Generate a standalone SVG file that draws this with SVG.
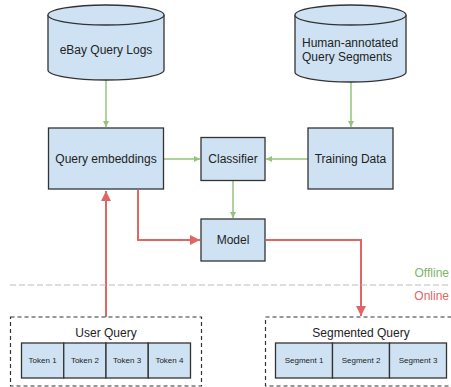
<svg xmlns="http://www.w3.org/2000/svg" width="451" height="387" viewBox="0 0 451 387">
<style>
.n{fill:#cfe2f3;stroke:#333;stroke-width:1.3}
.t{font-family:"Liberation Sans",Arial,sans-serif;font-size:12px;fill:#222;text-anchor:middle}
.ts{font-family:"Liberation Sans",Arial,sans-serif;font-size:12px;fill:#222;text-anchor:start}
.s{font-family:"Liberation Sans",Arial,sans-serif;font-size:8px;fill:#222;text-anchor:middle}
.g{fill:none;stroke:#93c47d;stroke-width:1.5}
.r{fill:none;stroke:#e06666;stroke-width:2}
.d{fill:none;stroke:#333;stroke-width:1.2;stroke-dasharray:4,3}
</style>
<defs>
<marker id="ag" markerWidth="8" markerHeight="8" refX="6" refY="3" orient="auto" markerUnits="userSpaceOnUse"><path d="M0,0 L6,3 L0,6 z" fill="#93c47d"/></marker>
<marker id="ar" markerWidth="12" markerHeight="12" refX="10" refY="5" orient="auto" markerUnits="userSpaceOnUse"><path d="M0,0 L10,5 L0,10 z" fill="#e06666"/></marker>
</defs>
<rect width="451" height="387" fill="#fff"/>
<g id="connectors">
<path class="g" d="M106,80 V127" marker-end="url(#ag)"/>
<path class="g" d="M351,82 V127" marker-end="url(#ag)"/>
<path class="g" d="M164,159 H200" marker-end="url(#ag)"/>
<path class="g" d="M308,159 H266" marker-end="url(#ag)"/>
<path class="g" d="M233,181 V218" marker-end="url(#ag)"/>
<path class="r" d="M106,317 V191" marker-end="url(#ar)"/>
<path class="r" d="M138,190 V240 H200" marker-end="url(#ar)"/>
<path class="r" d="M266,240 H361 V316" marker-end="url(#ar)"/>
</g>
<g id="divider">
<line x1="10" y1="285" x2="451" y2="285" stroke="#bbb" stroke-width="1.2" stroke-dasharray="6,3"/>
<text x="449" y="277" font-family="Liberation Sans,Arial,sans-serif" font-size="12" fill="#6aa84f" text-anchor="end" opacity="0.85">Offline</text>
<text x="449" y="300" font-family="Liberation Sans,Arial,sans-serif" font-size="12" fill="#e06666" text-anchor="end">Online</text>
</g>
<g id="ebay-logs">
<path class="n" d="M48,15 V70 A58,10 0 0 0 164,70 V15"/>
<ellipse class="n" cx="106" cy="15" rx="58" ry="10" fill="#dce9f5"/>
<text class="t" x="106" y="54">eBay Query Logs</text>
</g>
<g id="human-annotated">
<path class="n" d="M295,15 V72 A55.5,10 0 0 0 406,72 V15"/>
<ellipse class="n" cx="350.5" cy="15" rx="55.5" ry="10" fill="#dce9f5"/>
<text class="ts" x="302" y="47">Human-annotated</text>
<text class="ts" x="302" y="61">Query Segments</text>
</g>
<g id="query-embeddings">
<rect class="n" x="48.5" y="128" width="115" height="61"/>
<text class="t" x="106" y="163">Query embeddings</text>
</g>
<g id="classifier">
<rect class="n" x="201" y="137.5" width="64" height="43"/>
<text class="t" x="233" y="163">Classifier</text>
</g>
<g id="training-data">
<rect class="n" x="308" y="128" width="85" height="61"/>
<text class="t" x="350.5" y="163">Training Data</text>
</g>
<g id="model">
<rect class="n" x="201" y="219" width="64" height="42"/>
<text class="t" x="233" y="244">Model</text>
</g>
<g id="user-query">
<rect class="d" x="10.5" y="317" width="191" height="69"/>
<text class="t" x="106" y="337">User Query</text>
<rect class="n" x="21.5" y="343" width="42.25" height="35"/>
<rect class="n" x="63.75" y="343" width="42.25" height="35"/>
<rect class="n" x="106" y="343" width="42.25" height="35"/>
<rect class="n" x="148.25" y="343" width="42.25" height="35"/>
<text class="s" x="42.6" y="363">Token 1</text>
<text class="s" x="84.9" y="363">Token 2</text>
<text class="s" x="127.1" y="363">Token 3</text>
<text class="s" x="169.4" y="363">Token 4</text>
</g>
<g id="segmented-query">
<rect class="d" x="265.5" y="317" width="190" height="69"/>
<text class="t" x="361" y="337">Segmented Query</text>
<rect class="n" x="275.5" y="343" width="57" height="35"/>
<rect class="n" x="332.5" y="343" width="57" height="35"/>
<rect class="n" x="389.5" y="343" width="57" height="35"/>
<text class="s" x="304" y="363">Segment 1</text>
<text class="s" x="361" y="363">Segment 2</text>
<text class="s" x="418" y="363">Segment 3</text>
</g>
</svg>
